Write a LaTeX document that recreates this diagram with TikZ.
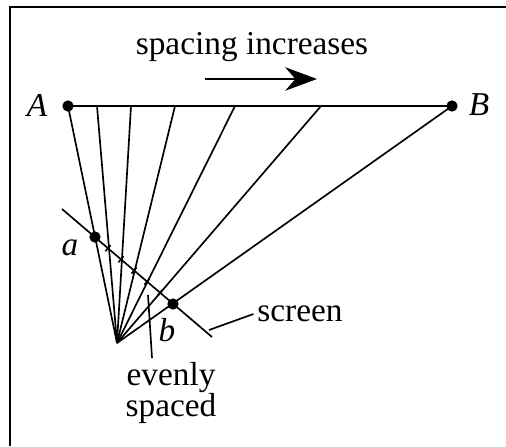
\documentclass[tikz,border=0pt]{standalone}
\usepackage{fontspec}
\setmainfont{Liberation Serif}
\usetikzlibrary{positioning,arrows.meta,calc}

\begin{document}
\begin{tikzpicture}[
  x=0.3pt, y=-0.3pt,
  font=\fontsize{10}{12}\selectfont,
  dot/.style={circle, fill, inner sep=0pt, minimum size=3.4pt},
  ray/.style={line width=0.5pt},
  lead/.style={line width=0.5pt},
  lbl/.style={inner sep=1pt, font=\fontsize{10}{12}\selectfont\itshape}]
\useasboundingbox (0,0) rectangle (506,446);
\draw[line width=0.7pt] (10,446) -- (10,7) -- (506,7);
% end points and apex
\node[dot] (A) at (68,106) {};
\node[dot] (B) at (452,106) {};
\coordinate (apex) at (117,343);
\foreach \x [count=\i] in {97,131,175,235,321} \coordinate (t\i) at (\x,106);
\coordinate (scrL) at (62,209);
\coordinate (scrR) at (212,337);
\node[dot] (a) at (95,237) {};
\node[dot] (b) at (173,304) {};
% labels
\node[lbl] (labA) at (37,105) {A};
\node[lbl] (labB) at (479,105) {B};
\node[lbl] (laba) at (70,248) {a};
\node[lbl] (labb) at (167,330) {b};
\node[inner sep=1pt] (title) at (252,47) {spacing increases};
\node[inner sep=1pt] (screen) at (300,314) {screen};
\node[inner sep=1pt, align=center] (even) at (171,393) {evenly\\[-2.5pt]spaced};
% rays
\draw[ray] (A.center) -- (B.center);
\draw[ray] (A.center) -- (apex);
\foreach \i in {1,...,5} \draw[ray] (t\i) -- (apex);
\draw[ray] (B.center) -- (apex);
% screen with ticks
\draw[ray] (scrL) -- (scrR);
\foreach \k in {1,...,5} {
  \coordinate (m\k) at ($(a)!\k/6!(b)$);
  \draw[ray] ($(m\k)!1.2pt!90:(b)$) -- ($(m\k)!1.2pt!-90:(b)$);
}
% leaders
\coordinate (scrtip) at (209,330);
\draw[lead] (screen.west) -- (scrtip);
\coordinate (evtip) at (148,295);
\draw[lead] ($(even.north)+(-19,0)$) -- (evtip);
% spacing arrow
\coordinate (arrL) at (205,79);
\coordinate (arrR) at (317,79);
\draw[line width=0.8pt, -{Stealth[length=9.5pt,width=7pt,inset=3pt]}] (arrL) -- (arrR);
\end{tikzpicture}
\end{document}
